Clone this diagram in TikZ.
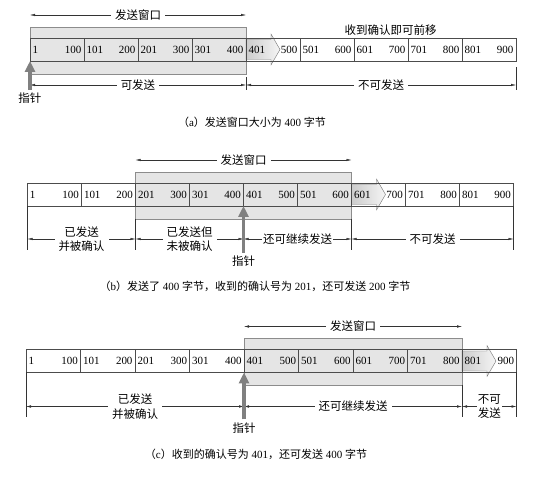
\documentclass[tikz,border=0pt]{standalone}
\usepackage{fontspec}
\setmainfont{Liberation Serif}
\newfontfamily\cjk{Noto Sans CJK SC}
\usetikzlibrary{positioning,fit,backgrounds,arrows.meta}

\begin{document}
\begin{tikzpicture}[x=1pt, y=-1pt,
>={Latex[length=5pt,width=2.5pt]},
cell/.style={draw=black!70, minimum height=23pt, text width=49pt, inner xsep=2.5pt, inner ysep=0pt, outer sep=0pt, font=\fontsize{11}{13}\selectfont},
cellc/.style={cell, text width=49.5pt},
window/.style={draw=black!45, fill=black!10, inner xsep=0pt, inner ysep=12pt, outer sep=0pt},
fatarrow/.style={draw=black!55, left color=black!20, right color=black!4},
dimline/.style={draw=black!80, arrows={<->}},
tick/.style={draw=black!80},
pointer/.style={draw=black!50, line width=3.5pt, arrows={-{Triangle[length=11pt,width=10pt]}}},
lbl/.style={fill=white, inner xsep=4pt, inner ysep=1pt, align=center, font=\cjk\fontsize{11.5}{14.5}\selectfont},
caption/.style={font=\fontsize{11}{13}\selectfont}]
\useasboundingbox (0,0) rectangle (550,478);
% Nodes (a)
\node[cell, anchor=west] (a1) at (30,49.5) {1\hfill 100};
\node[cell] (a2) [right=0pt of a1] {101\hfill 200};
\node[cell] (a3) [right=0pt of a2] {201\hfill 300};
\node[cell] (a4) [right=0pt of a3] {301\hfill 400};
\node[cell] (a5) [right=0pt of a4] {401\hfill 500};
\node[cell] (a6) [right=0pt of a5] {501\hfill 600};
\node[cell] (a7) [right=0pt of a6] {601\hfill 700};
\node[cell] (a8) [right=0pt of a7] {701\hfill 800};
\node[cell] (a9) [right=0pt of a8] {801\hfill 900};
\node[lbl, fill=none, xshift=9.5pt] (move) [above=1pt of a7.north] {收到确认即可前移};
\node[lbl, inner xsep=1pt] (ptra) [below=31pt of a1.south west] {指针};
\node[caption] (capa) at (252,122) {{\cjk （}a{\cjk ）发送窗口大小为} 400 {\cjk 字节}};
% Nodes (b)
\node[cell, anchor=west] (b1) at (27.5,194.5) {1\hfill 100};
\node[cell] (b2) [right=0pt of b1] {101\hfill 200};
\node[cell] (b3) [right=0pt of b2] {201\hfill 300};
\node[cell] (b4) [right=0pt of b3] {301\hfill 400};
\node[cell] (b5) [right=0pt of b4] {401\hfill 500};
\node[cell] (b6) [right=0pt of b5] {501\hfill 600};
\node[cell] (b7) [right=0pt of b6] {601\hfill 700};
\node[cell] (b8) [right=0pt of b7] {701\hfill 800};
\node[cell] (b9) [right=0pt of b8] {801\hfill 900};
\node[lbl, inner xsep=1pt] (ptrb) [below=49pt of b4.south east] {指针};
\node[caption] (capb) at (255,286) {{\cjk （}b{\cjk ）发送了} 400 {\cjk 字节，收到的确认号为} 201{\cjk ，还可发送} 200 {\cjk 字节}};
% Nodes (c)
\node[cellc, anchor=west] (c1) at (26,361) {1\hfill 100};
\node[cellc] (c2) [right=0pt of c1] {101\hfill 200};
\node[cellc] (c3) [right=0pt of c2] {201\hfill 300};
\node[cellc] (c4) [right=0pt of c3] {301\hfill 400};
\node[cellc] (c5) [right=0pt of c4] {401\hfill 500};
\node[cellc] (c6) [right=0pt of c5] {501\hfill 600};
\node[cellc] (c7) [right=0pt of c6] {601\hfill 700};
\node[cellc] (c8) [right=0pt of c7] {701\hfill 800};
\node[cellc] (c9) [right=0pt of c8] {801\hfill 900};
\node[lbl, inner xsep=1pt] (ptrc) [below=49pt of c4.south east] {指针};
\node[caption] (capc) at (256,454) {{\cjk （}c{\cjk ）收到的确认号为} 401{\cjk ，还可发送} 400 {\cjk 字节}};
% Windows and moving arrows
\begin{pgfonlayer}{background}
\node[window, fit=(a1)(a4), yshift=-1pt] (wa) {};
\node[window, fit=(b3)(b6), yshift=-1pt] (wb) {};
\node[window, fit=(c5)(c8), yshift=-1pt] (wc) {};
\draw[fatarrow] ([yshift=-1.5pt]a5.north west) -- ++(25,0) -- ++(0,-5.5) -- ++(9,15.5) -- ++(-9,15.5) -- ++(0,-5.5) -- ([yshift=1.5pt]a5.south west) -- cycle;
\draw[fatarrow] ([yshift=-1.5pt]b7.north west) -- ++(25,0) -- ++(0,-5.5) -- ++(9,15.5) -- ++(-9,15.5) -- ++(0,-5.5) -- ([yshift=1.5pt]b7.south west) -- cycle;
\draw[fatarrow] ([yshift=-1.5pt]c9.north west) -- ++(25,0) -- ++(0,-5.5) -- ++(9,15.5) -- ++(-9,15.5) -- ++(0,-5.5) -- ([yshift=1.5pt]c9.south west) -- cycle;
\end{pgfonlayer}
% Coordinates
\coordinate (wal) at ([yshift=12pt]wa.north west);
\coordinate (war) at ([yshift=12pt]wa.north east);
\coordinate (wbl) at ([yshift=12pt]wb.north west);
\coordinate (wbr) at ([yshift=12pt]wb.north east);
\coordinate (wcl) at ([yshift=12pt]wc.north west);
\coordinate (wcr) at ([yshift=12pt]wc.north east);
\coordinate (da0) at ([yshift=-24pt]a1.south west);
\coordinate (da1) at ([yshift=-24pt]a4.south east);
\coordinate (da2) at ([yshift=-24pt]a9.south east);
\coordinate (db0) at ([yshift=-33pt]b1.south west);
\coordinate (db1) at ([yshift=-33pt]b2.south east);
\coordinate (db2) at ([yshift=-33pt]b4.south east);
\coordinate (db3) at ([yshift=-33pt]b6.south east);
\coordinate (db4) at ([yshift=-33pt]b9.south east);
\coordinate (dc0) at ([yshift=-34pt]c1.south west);
\coordinate (dc1) at ([yshift=-34pt]c4.south east);
\coordinate (dc2) at ([yshift=-34pt]c8.south east);
\coordinate (dc3) at ([yshift=-34pt]c9.south east);
% Lines (a)
\draw[dimline] (wal) -- node[lbl] {发送窗口} (war);
\draw[dimline] (da0) -- node[lbl] {可发送} (da1);
\draw[dimline] (da1) -- node[lbl] {不可发送} (da2);
\draw[tick] ([yshift=8pt]da1) -- ([yshift=-5pt]da1);
\draw[tick] ([yshift=18pt]da2) -- ([yshift=-5pt]da2);
\draw[pointer] ([yshift=2pt]ptra.north) -- (a1.south west);
% Lines (b)
\draw[dimline] (wbl) -- node[lbl] {发送窗口} (wbr);
\draw[dimline] (db0) -- node[lbl] {已发送\\并被确认} (db1);
\draw[dimline] (db1) -- node[lbl] {已发送但\\未被确认} (db2);
\draw[dimline] (db2) -- node[lbl, inner xsep=1pt] {还可继续发送} (db3);
\draw[dimline] (db3) -- node[lbl] {不可发送} (db4);
\draw[tick] (b1.south west) -- ([yshift=-11pt]db0);
\draw[tick] (wb.south west) -- ([yshift=-11pt]db1);
\draw[tick] (wb.south east) -- ([yshift=-11pt]db3);
\draw[tick] (b9.south east) -- ([yshift=-11pt]db4);
\draw[pointer] ([yshift=2pt]ptrb.north) -- (b4.south east);
% Lines (c)
\draw[dimline] (wcl) -- node[lbl] {发送窗口} (wcr);
\draw[dimline] (dc0) -- node[lbl] {已发送\\并被确认} (dc1);
\draw[dimline] (dc1) -- node[lbl] {还可继续发送} (dc2);
\draw[dimline] (dc2) -- node[lbl, inner xsep=1pt] {不可\\发送} (dc3);
\draw[tick] (c1.south west) -- ([yshift=-11pt]dc0);
\draw[tick] (wc.south east) -- ([yshift=-11pt]dc2);
\draw[tick] (c9.south east) -- ([yshift=-11pt]dc3);
\draw[pointer] ([yshift=2pt]ptrc.north) -- (c4.south east);
\end{tikzpicture}
\end{document}
